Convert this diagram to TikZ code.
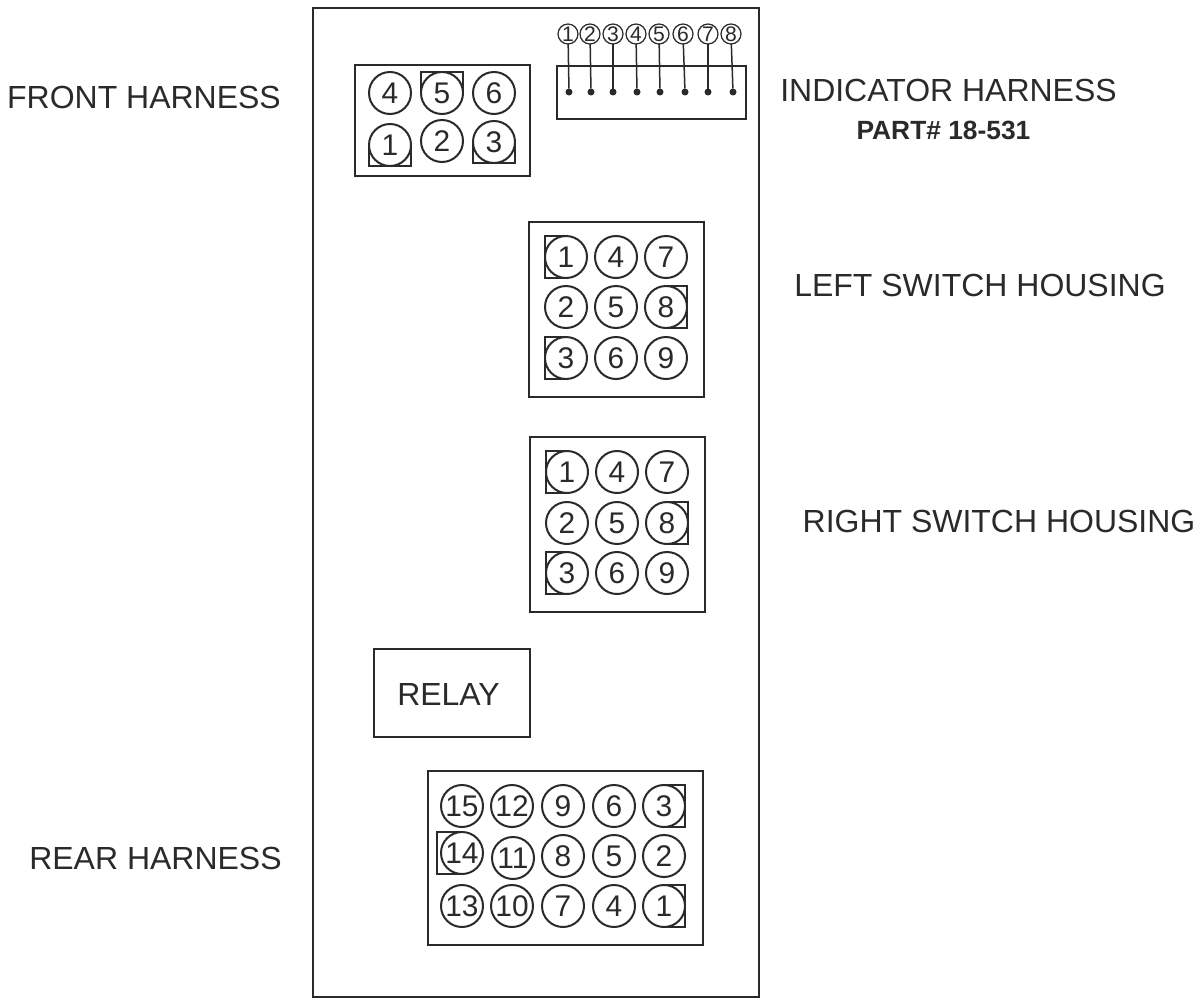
\documentclass[tikz,border=0pt]{standalone}
\usepackage{fontspec}
\setmainfont{Liberation Sans}
\usepackage{xcolor}
\usetikzlibrary{calc}
\definecolor{inkdark}{HTML}{2A2A2A}
\tikzset{
    panel/.style={draw=inkdark, line width=0.05cm, outer sep=0pt, inner sep=0pt},
    cavity/.style={circle, draw=inkdark, line width=0.04cm, minimum size=0.84cm, inner sep=0pt, outer sep=0pt, text=inkdark, font=\fontsize{17}{17}\selectfont},
    keyway/.style={draw=inkdark, line width=0.03cm},
    smallcavity/.style={circle, draw=inkdark, line width=0.025cm, minimum size=0.4cm, inner sep=0pt, outer sep=0pt, text=inkdark, font=\fontsize{12}{12}\selectfont},
    lead/.style={circle, fill=inkdark, minimum size=0.14cm, inner sep=0pt, outer sep=0pt},
    harness/.style={text=inkdark, inner sep=0pt, font=\fontsize{18.2}{20}\selectfont}
}

\begin{document}
\begin{tikzpicture}

        \useasboundingbox (0,0) rectangle (24.04,-20);

        %% Board
        \node (board) [panel, rectangle, minimum width=8.92cm, minimum height=19.78cm, anchor=north west] at (6.26,-0.16) {};

        %% Labels
        \node (front) [harness] at (2.88,-1.94) {FRONT HARNESS};
        \node (indicator) [harness] at (18.97,-1.80) {INDICATOR HARNESS};
        \node (part) [harness, font=\fontsize{15}{17}\selectfont\bfseries] at (18.87,-2.6) {PART\# 18-531};
        \node (left) [harness] at (19.6,-5.70) {LEFT SWITCH HOUSING};
        \node (right) [harness] at (19.98,-10.42) {RIGHT SWITCH HOUSING};
        \node (rear) [harness] at (3.11,-17.16) {REAR HARNESS};

        %% Relay
        \node (relay) [panel, rectangle, minimum width=3.12cm, minimum height=1.76cm, anchor=north west] at (7.48,-12.98) {};
        \node (relaytext) [harness] at (8.97,-13.88) {RELAY};

        %% Front harness
        \node (frontbox) [panel, rectangle, minimum width=3.5cm, minimum height=2.22cm, anchor=north west] at (7.1,-1.3) {};
        \node (f4) [cavity] at (7.8,-1.86) {4};
        \node (f5) [cavity] at (8.84,-1.86) {5};
        \node (f6) [cavity] at (9.88,-1.86) {6};
        \node (f1) [cavity] at (7.8,-2.9) {1};
        \node (f2) [cavity] at (8.84,-2.82) {2};
        \node (f3) [cavity] at (9.88,-2.84) {3};
        \draw [keyway] (f5.west) -- (f5.west |- f5.north) -- (f5.east |- f5.north) -- (f5.east);
        \draw [keyway] (f1.west) -- (f1.west |- f1.south) -- (f1.east |- f1.south) -- (f1.east);
        \draw [keyway] (f3.west) -- (f3.west |- f3.south) -- (f3.east |- f3.south) -- (f3.east);

        %% Indicator harness
        \node (indbox) [panel, rectangle, minimum width=3.78cm, minimum height=1.06cm, anchor=north west] at (11.14,-1.32) {};
        \node (n1) [smallcavity] at (11.36,-0.68) {1};
        \node (n2) [smallcavity] at (11.8,-0.68) {2};
        \node (n3) [smallcavity] at (12.26,-0.68) {3};
        \node (n4) [smallcavity] at (12.72,-0.68) {4};
        \node (n5) [smallcavity] at (13.18,-0.68) {5};
        \node (n6) [smallcavity] at (13.66,-0.68) {6};
        \node (n7) [smallcavity] at (14.16,-0.68) {7};
        \node (n8) [smallcavity] at (14.62,-0.68) {8};
        \node (p1) [lead] at (11.38,-1.84) {};
        \node (p2) [lead] at (11.82,-1.84) {};
        \node (p3) [lead] at (12.26,-1.84) {};
        \node (p4) [lead] at (12.74,-1.84) {};
        \node (p5) [lead] at (13.2,-1.84) {};
        \node (p6) [lead] at (13.7,-1.84) {};
        \node (p7) [lead] at (14.16,-1.84) {};
        \node (p8) [lead] at (14.66,-1.84) {};
        \draw [keyway] (n1) -- (p1);
        \draw [keyway] (n2) -- (p2);
        \draw [keyway] (n3) -- (p3);
        \draw [keyway] (n4) -- (p4);
        \draw [keyway] (n5) -- (p5);
        \draw [keyway] (n6) -- (p6);
        \draw [keyway] (n7) -- (p7);
        \draw [keyway] (n8) -- (p8);

        %% Left switch housing
        \node (leftbox) [panel, rectangle, minimum width=3.5cm, minimum height=3.5cm, anchor=north west] at (10.58,-4.44) {};
        \node (l1) [cavity] at (11.32,-5.14) {1};
        \node (l2) [cavity] at (11.32,-6.14) {2};
        \node (l3) [cavity] at (11.32,-7.16) {3};
        \node (l4) [cavity] at (12.32,-5.14) {4};
        \node (l5) [cavity] at (12.32,-6.14) {5};
        \node (l6) [cavity] at (12.32,-7.16) {6};
        \node (l7) [cavity] at (13.32,-5.14) {7};
        \node (l8) [cavity] at (13.32,-6.14) {8};
        \node (l9) [cavity] at (13.32,-7.16) {9};
        \draw [keyway] (l1.north) -- (l1.west |- l1.north) -- (l1.west |- l1.south) -- (l1.south);
        \draw [keyway] (l3.north) -- (l3.west |- l3.north) -- (l3.west |- l3.south) -- (l3.south);
        \draw [keyway] (l8.north) -- (l8.east |- l8.north) -- (l8.east |- l8.south) -- (l8.south);

        %% Right switch housing
        \node (rightbox) [panel, rectangle, minimum width=3.5cm, minimum height=3.5cm, anchor=north west] at (10.6,-8.74) {};
        \node (r1) [cavity] at (11.34,-9.44) {1};
        \node (r2) [cavity] at (11.34,-10.46) {2};
        \node (r3) [cavity] at (11.34,-11.46) {3};
        \node (r4) [cavity] at (12.34,-9.44) {4};
        \node (r5) [cavity] at (12.34,-10.46) {5};
        \node (r6) [cavity] at (12.34,-11.46) {6};
        \node (r7) [cavity] at (13.34,-9.44) {7};
        \node (r8) [cavity] at (13.34,-10.46) {8};
        \node (r9) [cavity] at (13.34,-11.46) {9};
        \draw [keyway] (r1.north) -- (r1.west |- r1.north) -- (r1.west |- r1.south) -- (r1.south);
        \draw [keyway] (r3.north) -- (r3.west |- r3.north) -- (r3.west |- r3.south) -- (r3.south);
        \draw [keyway] (r8.north) -- (r8.east |- r8.north) -- (r8.east |- r8.south) -- (r8.south);

        %% Rear harness
        \node (rearbox) [panel, rectangle, minimum width=5.5cm, minimum height=3.48cm, anchor=north west] at (8.56,-15.42) {};
        \node (h15) [cavity] at (9.24,-16.12) {15};
        \node (h12) [cavity] at (10.24,-16.12) {12};
        \node (h9) [cavity] at (11.26,-16.12) {9};
        \node (h6) [cavity] at (12.28,-16.12) {6};
        \node (h3) [cavity] at (13.28,-16.12) {3};
        \node (h14) [cavity] at (9.24,-17.06) {14};
        \node (h11) [cavity] at (10.26,-17.16) {11};
        \node (h8) [cavity] at (11.26,-17.12) {8};
        \node (h5) [cavity] at (12.28,-17.12) {5};
        \node (h2) [cavity] at (13.28,-17.12) {2};
        \node (h13) [cavity] at (9.24,-18.12) {13};
        \node (h10) [cavity] at (10.24,-18.12) {10};
        \node (h7) [cavity] at (11.26,-18.12) {7};
        \node (h4) [cavity] at (12.28,-18.12) {4};
        \node (h1) [cavity] at (13.28,-18.12) {1};
        \draw [keyway] (h3.north) -- (h3.east |- h3.north) -- (h3.east |- h3.south) -- (h3.south);
        \draw [keyway] (h1.north) -- (h1.east |- h1.north) -- (h1.east |- h1.south) -- (h1.south);
        \draw [keyway] (h14.north) -- ($(h14.west |- h14.north) + (-0.08,0)$) -- ($(h14.west |- h14.south) + (-0.08,0)$) -- (h14.south);

    \end{tikzpicture}
\end{document}
